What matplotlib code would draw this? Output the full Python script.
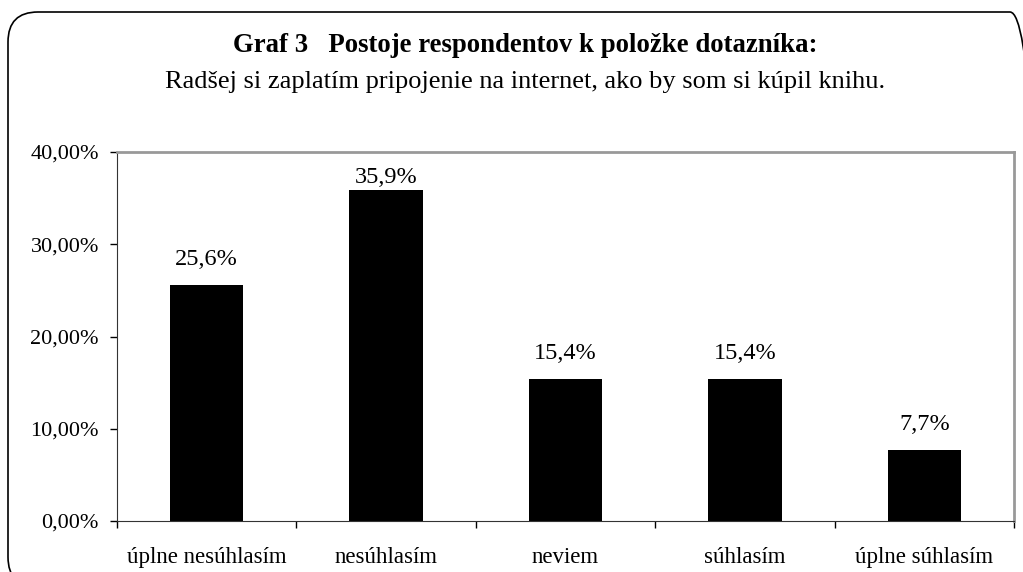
import matplotlib.pyplot as plt
from matplotlib.patches import FancyBboxPatch
from matplotlib.ticker import FixedLocator

# data
categories = ['úplne nesúhlasím', 'nesúhlasím', 'neviem', 'súhlasím', 'úplne súhlasím']
values = [25.6, 35.9, 15.4, 15.4, 7.7]
value_labels = ['25,6%', '35,9%', '15,4%', '15,4%', '7,7%']
y_ticks = [0, 10, 20, 30, 40]
y_tick_labels = ['0,00%', '10,00%', '20,00%', '30,00%', '40,00%']

title = 'Graf 3   Postoje respondentov k položke dotazníka:'
subtitle = 'Radšej si zaplatím pripojenie na internet, ako by som si kúpil knihu.'

plt.rcParams['font.family'] = ['Liberation Serif', 'DejaVu Serif']

fig = plt.figure(figsize=(10.23, 5.72), dpi=100)

# rounded frame around the whole chart (runs off the right and bottom edge)
frame = FancyBboxPatch((0.08, -0.15), 10.32, 5.75,
                       boxstyle='round,pad=0,rounding_size=0.3',
                       transform=fig.dpi_scale_trans, fill=False,
                       edgecolor='black', linewidth=1.2)
fig.patches.append(frame)

fig.text(0.513, 1 - 45 / 572, title, ha='center', va='center',
         fontsize=19.3, fontweight='bold')
fig.text(0.513, 1 - 82 / 572, subtitle, ha='center', va='center', fontsize=19)

ax = fig.add_axes([117 / 1023, 51 / 572, (1014 - 117) / 1023, (521 - 152) / 572])

x = list(range(len(categories)))
ax.bar(x, values, width=0.41, color='black')

for xi, v, lab in zip(x, values, value_labels):
    ax.text(xi, min(v + 2.8, 37.2), lab, ha='center', va='center', fontsize=17.5)

ax.set_xlim(-0.5, len(categories) - 0.5)
ax.set_ylim(0, 40)
ax.set_yticks(y_ticks)
ax.set_yticklabels(y_tick_labels, fontsize=16)
ax.set_xticks(x)
ax.set_xticklabels(categories, fontsize=16.5)
ax.xaxis.set_minor_locator(FixedLocator([i - 0.5 for i in range(len(categories) + 1)]))

ax.tick_params(axis='x', which='major', length=0, pad=19)
ax.tick_params(axis='x', which='minor', length=5, width=1, direction='out')
ax.tick_params(axis='y', length=5, width=1, direction='out', pad=8)

for side in ['top', 'right']:
    ax.spines[side].set_color('#999999')
    ax.spines[side].set_linewidth(2)
ax.spines['left'].set_color('#333333')
ax.spines['bottom'].set_color('#333333')

plt.savefig('out.png', dpi=100)
